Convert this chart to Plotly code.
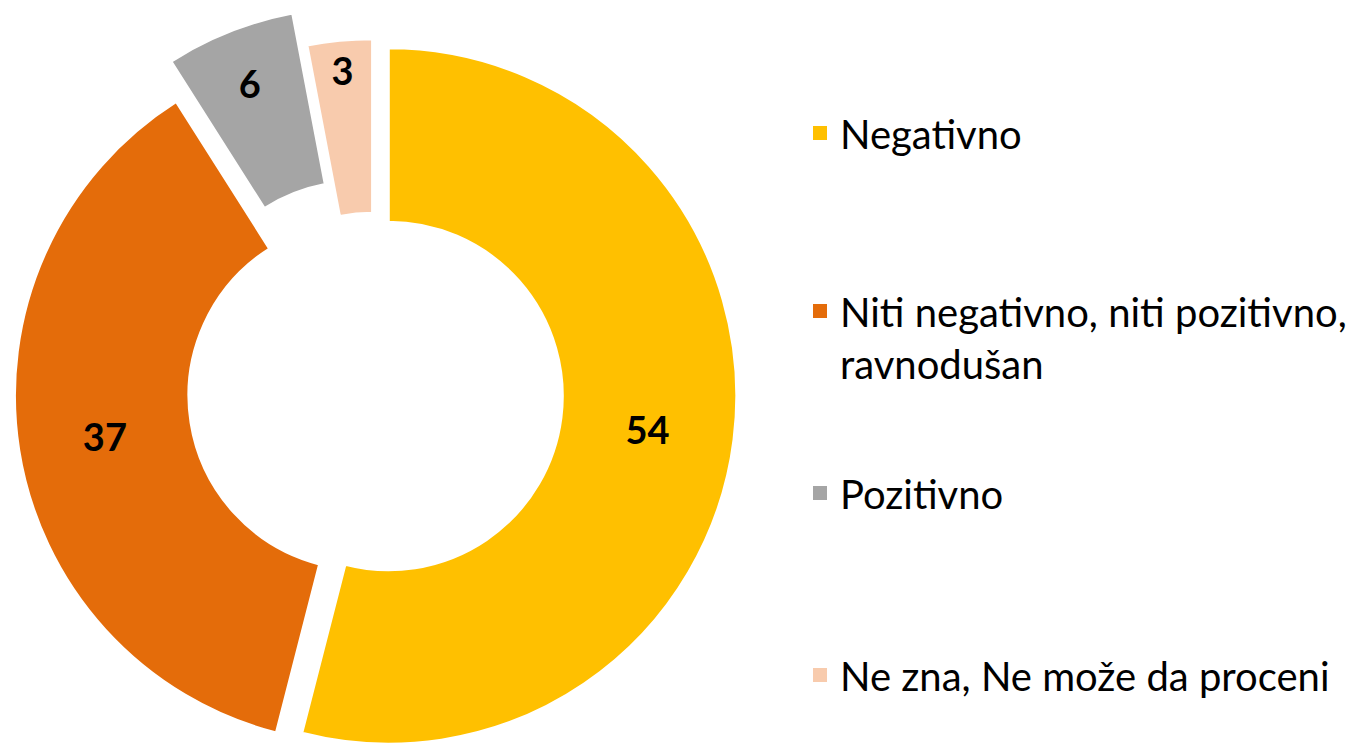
import plotly.graph_objects as go

labels = ["Negativno", "Niti negativno, niti pozitivno,<br>ravnodušan", "Pozitivno", "Ne zna, Ne može da proceni"]
values = [54, 37, 6, 3]
colors = ["#FFC000", "#E46C0A", "#A5A5A5", "#F8CBAD"]
pulls = [0.045, 0.03, 0.12, 0.02]

OX = 40            # part of the figure that lies left of the visible page
W, H = 1360 + OX, 800
FONT = "Lato"

# pie geometry (visible-page pixels)
CX, CY, R = 373, 394, 348
half = R * (1 + max(pulls))
dom_x = [(CX + OX - half) / W, (CX + OX + half) / W]
dom_y = [1 - (CY + half) / H, 1 - (CY - half) / H]

fig = go.Figure()
fig.add_trace(go.Pie(
    labels=labels, values=values, sort=False, direction="clockwise", rotation=0,
    hole=0.5, pull=pulls,
    marker=dict(colors=colors, line=dict(color="white", width=2.5)),
    texttemplate="%{value}", textposition="inside", insidetextorientation="horizontal",
    textfont=dict(family=FONT, size=38, color="black", weight="bold"),
    domain=dict(x=dom_x, y=dom_y),
    showlegend=False,
))

legend_y_px = [133, 337, 493, 675]
legend_names = ["legend", "legend2", "legend3", "legend4"]
for lab, col, name in zip(labels, colors, legend_names):
    fig.add_trace(go.Scatter(
        x=[None], y=[None], mode="markers", name=lab,
        marker=dict(symbol="square", size=14, color=col),
        legend=name, showlegend=True,
    ))

leg_common = dict(x=(800 + OX) / W, xanchor="left", yanchor="middle", valign="top",
                  bgcolor="rgba(0,0,0,0)", font=dict(family=FONT, size=40, color="black"))
layout_legends = {}
for name, ypx in zip(legend_names, legend_y_px):
    layout_legends[name] = dict(y=1 - ypx / H, **leg_common)

fig.update_layout(
    width=W, height=H, margin=dict(l=0, r=0, t=0, b=0),
    paper_bgcolor="white", plot_bgcolor="white",
    xaxis=dict(visible=False), yaxis=dict(visible=False),
    **layout_legends,
)

fig.write_html(
    "out.html",
    config={"displayModeBar": False},
    post_script=f"document.body.style.margin='0 0 0 -{OX}px';document.body.style.overflow='hidden';",
)
